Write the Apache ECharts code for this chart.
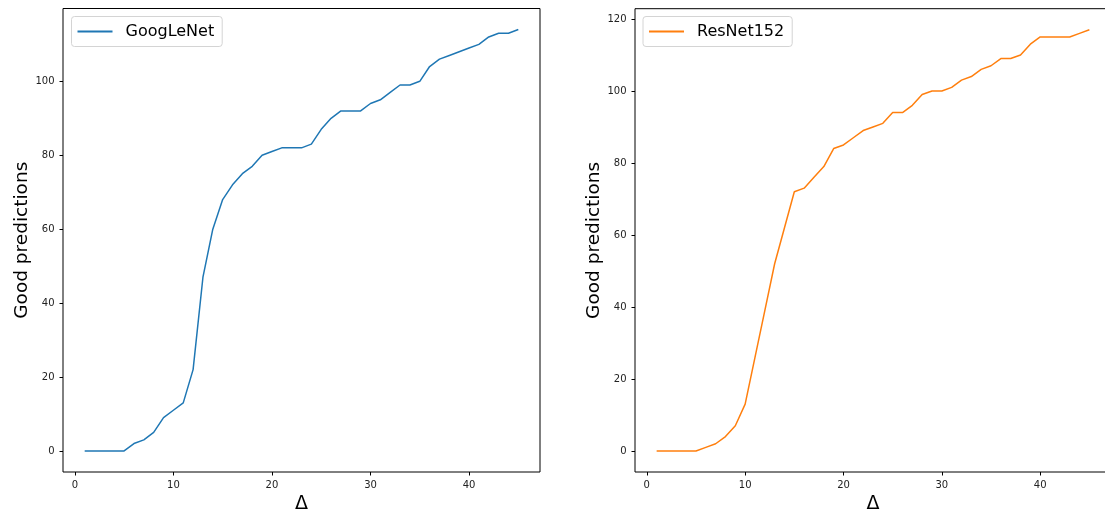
<!DOCTYPE html>
<html>
<head>
<meta charset="utf-8">
<script src="https://cdn.jsdelivr.net/npm/echarts@6/dist/echarts.min.js"></script>
<style>
html,body{margin:0;padding:0;background:#fff;}
#chart{width:1105px;height:513px;}
</style>
</head>
<body>
<div id="chart"></div>
<script>
// ---- data ----
const deltas = [1,2,3,4,5,6,7,8,9,10,11,12,13,14,15,16,17,18,19,20,21,22,23,24,25,26,27,28,29,30,31,32,33,34,35,36,37,38,39,40,41,42,43,44,45];
const googlenet = [0,0,0,0,0,2,3,5,9,11,13,22,47,60,68,72,75,77,80,81,82,82,82,83,87,90,92,92,92,94,95,97,99,99,100,104,106,107,108,109,110,112,113,113,114];
const resnet152 = [0,0,0,0,0,1,2,4,7,13,26,39,52,62,72,73,76,79,84,85,87,89,90,91,94,94,96,99,100,100,101,103,104,106,107,109,109,110,113,115,115,115,115,116,117];
const xTicks = [0,10,20,30,40];
const yTicksLeft = [0,20,40,60,80,100];
const yTicksRight = [0,20,40,60,80,100,120];
const seriesNames = ['GoogLeNet','ResNet152'];
const colors = ['#1f77b4','#ff7f0e'];
const xLabel = 'Δ';
const yLabel = 'Good predictions';

const FONT = 'DejaVu Sans';
function pairs(vals){ return deltas.map((d,i)=>[d, vals[i]]); }

function xAxis(gi){
  return {
    type:'value', gridIndex:gi, min:-1.2, max:47.2,
    name:xLabel, nameLocation:'middle', nameGap:21.5,
    nameTextStyle:{fontFamily:FONT,fontSize:19,color:'#000'},
    axisLine:{show:false,onZero:false},
    axisTick:{show:true,length:3.5,inside:false,lineStyle:{color:'#000',width:1},customValues:xTicks},
    axisLabel:{show:true,margin:8,fontFamily:FONT,fontSize:10,color:'#222',customValues:xTicks},
    splitLine:{show:false}
  };
}
function yAxis(gi,min,max,ticks){
  return {
    type:'value', gridIndex:gi, min:min, max:max,
    name:yLabel, nameLocation:'middle', nameGap:30, nameRotate:90,
    nameTextStyle:{fontFamily:FONT,fontSize:18.5,color:'#000'},
    axisLine:{show:false,onZero:false},
    axisTick:{show:true,length:3.5,inside:false,lineStyle:{color:'#000',width:1},customValues:ticks},
    axisLabel:{show:true,margin:8.5,fontFamily:FONT,fontSize:10,color:'#222',customValues:ticks},
    splitLine:{show:false}
  };
}
function legend(i,left){
  return {
    data:[seriesNames[i]], left:left, top:16.5, orient:'vertical',
    backgroundColor:'#fff', borderColor:'#d4d4d4', borderWidth:1, borderRadius:3,
    padding:[7,8,7,5], itemWidth:35, itemHeight:14,
    itemStyle:{opacity:0},
    textStyle:{fontFamily:FONT,fontSize:16,color:'#000',padding:[0,0,0,8]}
  };
}

const chart = echarts.init(document.getElementById('chart'), null, {renderer:'canvas'});
chart.setOption({
  animation:false,
  backgroundColor:'#fff',
  grid:[
    {left:63,top:8.5,width:477,height:463.5,show:true,borderColor:'#000',borderWidth:1,backgroundColor:'transparent',outerBoundsMode:'none',containLabel:false},
    {left:635,top:8.7,width:476,height:463.3,show:true,borderColor:'#000',borderWidth:1,backgroundColor:'transparent',outerBoundsMode:'none',containLabel:false}
  ],
  legend:[legend(0,71.5), legend(1,643)],
  xAxis:[xAxis(0), xAxis(1)],
  yAxis:[yAxis(0,-5.7,119.7,yTicksLeft), yAxis(1,-5.85,122.85,yTicksRight)],
  series:[
    {name:seriesNames[0],type:'line',xAxisIndex:0,yAxisIndex:0,data:pairs(googlenet),symbol:'none',showSymbol:false,
     lineStyle:{color:colors[0],width:1.5},itemStyle:{color:colors[0]}},
    {name:seriesNames[1],type:'line',xAxisIndex:1,yAxisIndex:1,data:pairs(resnet152),symbol:'none',showSymbol:false,
     lineStyle:{color:colors[1],width:1.5},itemStyle:{color:colors[1]}}
  ]
});
</script>
</body>
</html>
